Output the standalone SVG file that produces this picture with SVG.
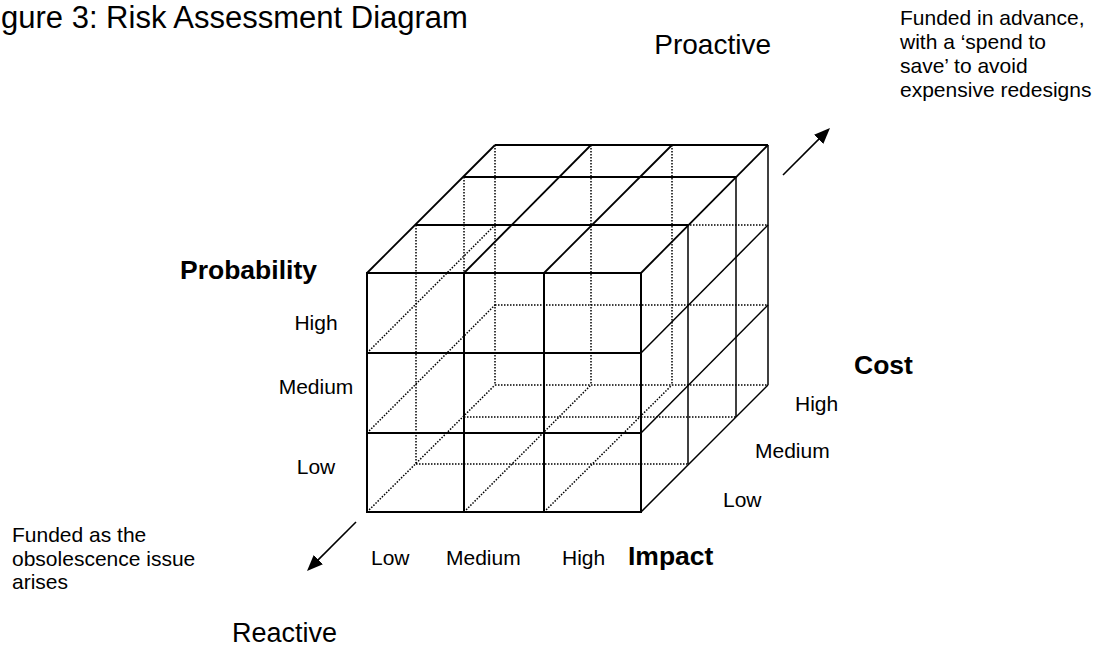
<svg xmlns="http://www.w3.org/2000/svg" width="1095" height="649" viewBox="0 0 1095 649">
<style>
  text { font-family: "Liberation Sans", Arial, sans-serif; fill: #000; }
  .t { font-size: 21px; }
  .b { font-size: 26.5px; font-weight: bold; }
  .big { font-size: 28px; }
  .rea { font-size: 27px; }
  .ttl { font-size: 31px; }
  .front line, .front rect { stroke: #000; stroke-width: 2; fill: none; }
  .top line { stroke: #000; stroke-width: 1.8; }
  .side line { stroke: #000; stroke-width: 1.5; }
  .hid line { stroke: #000; stroke-width: 1.5; stroke-dasharray: 1.5 1.5; }
  .arr { stroke: #000; stroke-width: 1.6; marker-end: url(#ah); }
</style>
<defs>
  <marker id="ah" markerUnits="userSpaceOnUse" markerWidth="18" markerHeight="14" refX="2" refY="6.5" orient="auto">
    <path d="M0,0 L16,6.5 L0,13 z" fill="#000"/>
  </marker>
</defs>
<rect width="1095" height="649" fill="#fff"/>
<text id="title" class="ttl" x="1" y="28">gure 3: Risk Assessment Diagram</text>

<g id="cube">
  <g id="hidden" class="hid">
    <line x1="495" y1="225" x2="768" y2="225"/>
    <line x1="495" y1="305" x2="768" y2="305"/>
    <line x1="495" y1="385" x2="768" y2="385"/>
    <line x1="495" y1="145" x2="495" y2="385"/>
    <line x1="591" y1="145" x2="591" y2="385"/>
    <line x1="672" y1="145" x2="672" y2="385"/>
    <line x1="416" y1="464" x2="688" y2="464"/>
    <line x1="416" y1="225" x2="416" y2="464"/>
    <line x1="464" y1="417" x2="736" y2="417"/>
    <line x1="464" y1="177" x2="464" y2="417"/>
    <line x1="367" y1="353" x2="495" y2="225"/>
    <line x1="367" y1="433" x2="495" y2="305"/>
    <line x1="367" y1="512" x2="495" y2="385"/>
    <line x1="464" y1="512" x2="591" y2="385"/>
    <line x1="544" y1="512" x2="672" y2="385"/>
  </g>
  <g id="top-face" class="top">
    <line x1="495" y1="145" x2="768" y2="145"/>
    <line x1="464" y1="177" x2="736" y2="177"/>
    <line x1="416" y1="225" x2="688" y2="225"/>
    <line x1="367" y1="273" x2="495" y2="145"/>
    <line x1="464" y1="273" x2="591" y2="145"/>
    <line x1="544" y1="273" x2="672" y2="145"/>
    <line x1="641" y1="273" x2="768" y2="145"/>
  </g>
  <g id="right-face" class="side">
    <line x1="688" y1="225" x2="688" y2="464"/>
    <line x1="736" y1="177" x2="736" y2="417"/>
    <line x1="768" y1="145" x2="768" y2="385"/>
    <line x1="641" y1="353" x2="768" y2="225"/>
    <line x1="641" y1="433" x2="768" y2="305"/>
    <line x1="641" y1="512" x2="768" y2="385"/>
  </g>
  <g id="front-face" class="front">
    <rect x="367" y="273" width="274" height="239"/>
    <line x1="464" y1="273" x2="464" y2="512"/>
    <line x1="544" y1="273" x2="544" y2="512"/>
    <line x1="367" y1="353" x2="641" y2="353"/>
    <line x1="367" y1="433" x2="641" y2="433"/>
  </g>
</g>

<g id="probability-axis">
  <text class="b" x="180" y="279">Probability</text>
  <text class="t" x="316" y="330" text-anchor="middle">High</text>
  <text class="t" x="316" y="394" text-anchor="middle">Medium</text>
  <text class="t" x="316" y="474" text-anchor="middle">Low</text>
</g>
<g id="cost-axis">
  <text class="b" x="854" y="374">Cost</text>
  <text class="t" x="795" y="411">High</text>
  <text class="t" x="755" y="458">Medium</text>
  <text class="t" x="723" y="507">Low</text>
</g>
<g id="impact-axis">
  <text class="t" x="371" y="565">Low</text>
  <text class="t" x="446" y="565">Medium</text>
  <text class="t" x="562" y="565">High</text>
  <text class="b" x="628" y="565">Impact</text>
</g>
<g id="proactive">
  <text class="big" x="771" y="54" text-anchor="end">Proactive</text>
  <text class="t" x="900" y="25">Funded in advance,</text>
  <text class="t" x="900" y="49">with a ‘spend to</text>
  <text class="t" x="900" y="73">save’ to avoid</text>
  <text class="t" x="900" y="97">expensive redesigns</text>
</g>
<g id="reactive">
  <text class="t" x="12" y="542">Funded as the</text>
  <text class="t" x="12" y="566">obsolescence issue</text>
  <text class="t" x="12" y="589">arises</text>
  <text class="rea" x="232" y="642">Reactive</text>
</g>
<g id="connectors">
  <line class="arr" x1="783" y1="175" x2="820.1" y2="137.9"/>
  <line class="arr" x1="356" y1="522" x2="316.9" y2="561.1"/>
</g>
</svg>
